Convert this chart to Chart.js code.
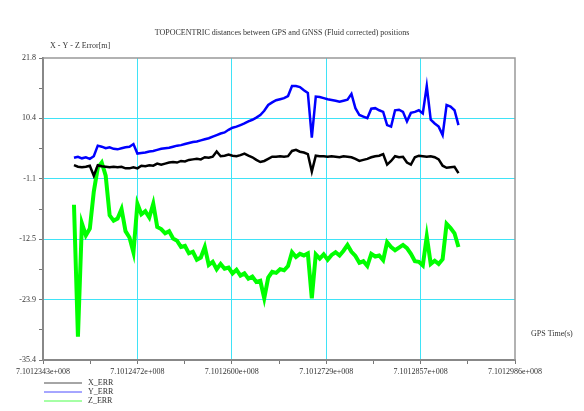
<!DOCTYPE html>
<html>
<head>
<meta charset="utf-8">
<script src="https://cdn.jsdelivr.net/npm/chart.js@4.4.1/dist/chart.umd.min.js"></script>
<style>
  body { margin: 0; background: #fff; }
  #wrap { width: 584px; height: 411px; }
</style>
</head>
<body>
<div id="wrap"><canvas id="errChart" width="584" height="411"></canvas></div>
<script>
// chart data
const chartTitle = "TOPOCENTRIC distances between GPS and GNSS (Fluid corrected) positions";
const yTitle = "X - Y - Z Error[m]";
const xTitle = "GPS Time(s)";
const seriesNames = ["X_ERR", "Y_ERR", "Z_ERR"];

const xTickValues = [710123430, 710124716, 710126002, 710127288, 710128574, 710129860];
const xTickLabels = ["7.1012343e+008", "7.1012472e+008", "7.1012600e+008", "7.1012729e+008", "7.1012857e+008", "7.1012986e+008"];
const yTickValues = [21.8, 10.36, -1.08, -12.52, -23.96, -35.4];
const yTickLabels = ["21.8", "10.4", "-1.1", "-12.5", "-23.9", "-35.4"];

const startTime = 710123852;
const timeOffset = [0,54,108,162,216,270,324,378,432,486,540,594,648,702,756,810,864,918,972,1026,
  1080,1134,1188,1242,1296,1350,1404,1458,1512,1566,1620,1674,1728,1782,1836,1890,1944,1998,2052,2106,
  2160,2214,2268,2322,2376,2430,2484,2538,2592,2646,2700,2754,2808,2862,2916,2970,3024,3078,3132,3186,
  3240,3294,3348,3402,3456,3510,3564,3618,3672,3726,3780,3834,3888,3942,3996,4050,4104,4158,4212,4266,
  4320,4374,4428,4482,4536,4590,4644,4698,4752,4806,4860,4914,4968,5022,5076,5130,5184,5238];

const xErr = [1.5,1.2,1.1,1.2,1.4,-0.5,1.5,1.3,1.2,1.1,1.2,1.1,1.2,0.9,0.9,1.1,0.9,1.4,1.3,1.5,
  1.4,1.8,1.6,1.8,2.0,2.1,2.0,2.3,2.2,2.5,2.6,2.7,2.6,3.0,2.9,3.1,4.1,3.2,3.3,3.5,
  3.3,3.2,3.4,3.7,3.3,3.0,2.5,2.1,2.3,2.7,3.1,3.1,3.2,3.1,3.2,4.2,4.4,4.05,3.9,3.6,
  0.3,3.3,3.2,3.2,3.1,3.2,3.1,3.0,3.2,3.1,3.0,2.7,2.3,2.5,2.7,3.0,3.2,3.3,3.6,1.6,
  2.3,3.2,3.0,3.1,2.0,1.6,3.0,3.3,3.2,3.1,3.2,3.0,2.6,1.4,1.0,1.1,1.2,0.0];

const yErr = [2.9,3.1,2.8,3.0,2.7,3.2,5.2,5.0,4.7,4.9,4.6,4.5,4.7,4.9,5.0,5.5,3.7,3.8,3.9,4.1,
  4.2,4.4,4.6,4.7,4.8,5.0,5.2,5.3,5.5,5.7,5.9,6.0,6.2,6.4,6.6,6.9,7.2,7.5,7.7,8.2,
  8.6,8.8,9.1,9.4,9.8,10.1,10.5,11.0,11.8,12.9,13.4,13.8,14.0,14.2,14.6,16.5,16.5,16.3,15.7,15.2,
  6.7,14.5,14.4,14.2,14.0,13.85,13.7,13.5,13.7,13.9,15.0,12.3,11.0,10.7,10.4,12.2,12.3,11.9,11.6,9.1,
  8.8,11.9,12.0,11.6,9.8,11.4,11.6,11.9,11.3,16.5,10.1,9.4,8.8,7.2,12.9,12.6,11.9,9.1];

const zErr = [-6.0,-31.0,-9.5,-11.8,-10.5,-3.5,1.0,2.0,-0.5,-8.0,-9.0,-8.6,-6.8,-11.0,-12.2,-15.0,-5.8,-7.8,-7.2,-8.4,
  -5.8,-10.2,-10.6,-11.4,-11.0,-12.4,-12.8,-14.0,-13.8,-15.2,-14.9,-16.4,-16.0,-14.0,-17.4,-16.8,-18.2,-17.2,-18.1,-17.9,
  -19.0,-18.3,-19.4,-19.0,-20.0,-19.6,-20.6,-20.4,-23.7,-19.8,-18.7,-18.9,-18.2,-18.4,-17.6,-15.0,-15.9,-15.3,-15.6,-15.2,
  -23.7,-15.4,-16.2,-15.4,-16.4,-15.5,-15.0,-15.6,-14.7,-13.6,-14.9,-15.7,-17.0,-16.7,-17.6,-15.3,-15.8,-15.6,-16.5,-13.1,
  -14.0,-14.6,-14.1,-13.6,-14.2,-15.3,-16.7,-16.8,-17.5,-12.0,-17.2,-16.6,-17.2,-16.3,-9.6,-10.4,-11.4,-14.0];

const seriesColors = ["#000000", "#0000ff", "#00ff00"];

function toPoints(vals) {
    return vals.map((v, i) => ({ x: startTime + timeOffset[i], y: v }));
}

// ticks incl. small ones half way
function withMinor(vals) {
    let out = [];
    vals.forEach((v, i) => {
        out.push({ value: v, main: true });
        if (i < vals.length - 1) out.push({ value: (v + vals[i + 1]) / 2, main: false });
    });
    return out;
}

const tickFont = { family: "Liberation Serif", size: 8 };
const gridCyan = "#3fe3f7";

function gridColor(c) {
    if (!c.tick || !c.tick.main) return "transparent";
    if (c.index === 0 || c.index === c.scale.ticks.length - 1) return "transparent";
    return gridCyan;
}

// extra texts, frame and legend
const extras = {
    id: "extras",
    afterDraw(chart) {
        const ctx = chart.ctx;
        const a = chart.chartArea;
        ctx.save();
        ctx.strokeStyle = "#999";
        ctx.lineWidth = 1.5;
        ctx.beginPath();
        ctx.moveTo(a.left, a.top);
        ctx.lineTo(a.right, a.top);
        ctx.lineTo(a.right, a.bottom);
        ctx.stroke();

        ctx.fillStyle = "#333";
        ctx.font = "8px 'Liberation Serif'";
        ctx.textBaseline = "middle";
        ctx.textAlign = "center";
        ctx.fillText(chartTitle, 282, 33);
        ctx.textAlign = "left";
        ctx.fillText(yTitle, 50, 46);
        ctx.fillText(xTitle, 531, 334);

        chart.data.datasets.forEach((ds, i) => {
            const y = 383 + i * 9;
            ctx.strokeStyle = ds.borderColor;
            ctx.globalAlpha = 0.7;
            ctx.lineWidth = 1;
            ctx.beginPath();
            ctx.moveTo(44, y);
            ctx.lineTo(82, y);
            ctx.stroke();
            ctx.globalAlpha = 1;
            ctx.fillStyle = "#333";
            ctx.fillText(ds.label, 88, y);
        });
        ctx.restore();
    }
};

const ctx = document.getElementById("errChart").getContext("2d");
new Chart(ctx, {
    type: "line",
    data: {
        datasets: [
            { label: seriesNames[0], data: toPoints(xErr), borderColor: seriesColors[0], borderWidth: 2.5 },
            { label: seriesNames[1], data: toPoints(yErr), borderColor: seriesColors[1], borderWidth: 2.5 },
            { label: seriesNames[2], data: toPoints(zErr), borderColor: seriesColors[2], borderWidth: 4 }
        ]
    },
    options: {
        responsive: false,
        animation: false,
        layout: { padding: { top: 58, right: 69, left: 0, bottom: 0 } },
        elements: { point: { radius: 0 }, line: { tension: 0 } },
        plugins: { legend: { display: false }, tooltip: { enabled: false } },
        scales: {
            x: {
                type: "linear",
                min: xTickValues[0],
                max: xTickValues[xTickValues.length - 1],
                afterBuildTicks: s => { s.ticks = withMinor(xTickValues); },
                afterFit: s => { s.height = 51; },
                ticks: {
                    autoSkip: false, maxRotation: 0, padding: 3, font: tickFont, color: "#333",
                    callback: v => { const i = xTickValues.indexOf(v); return i >= 0 ? xTickLabels[i] : ""; }
                },
                grid: { color: gridColor, lineWidth: 1, tickColor: "#777", tickLength: 4 },
                border: { color: "#888", width: 2 }
            },
            y: {
                min: yTickValues[yTickValues.length - 1],
                max: yTickValues[0],
                afterBuildTicks: s => { s.ticks = withMinor(yTickValues); },
                afterFit: s => { s.width = 43; },
                ticks: {
                    autoSkip: false, padding: 3, font: tickFont, color: "#333",
                    callback: v => { const i = yTickValues.indexOf(v); return i >= 0 ? yTickLabels[i] : ""; }
                },
                grid: { color: gridColor, lineWidth: 1, tickColor: "#777", tickLength: 4 },
                border: { color: "#888", width: 2 }
            }
        }
    },
    plugins: [extras]
});
</script>
</body>
</html>
